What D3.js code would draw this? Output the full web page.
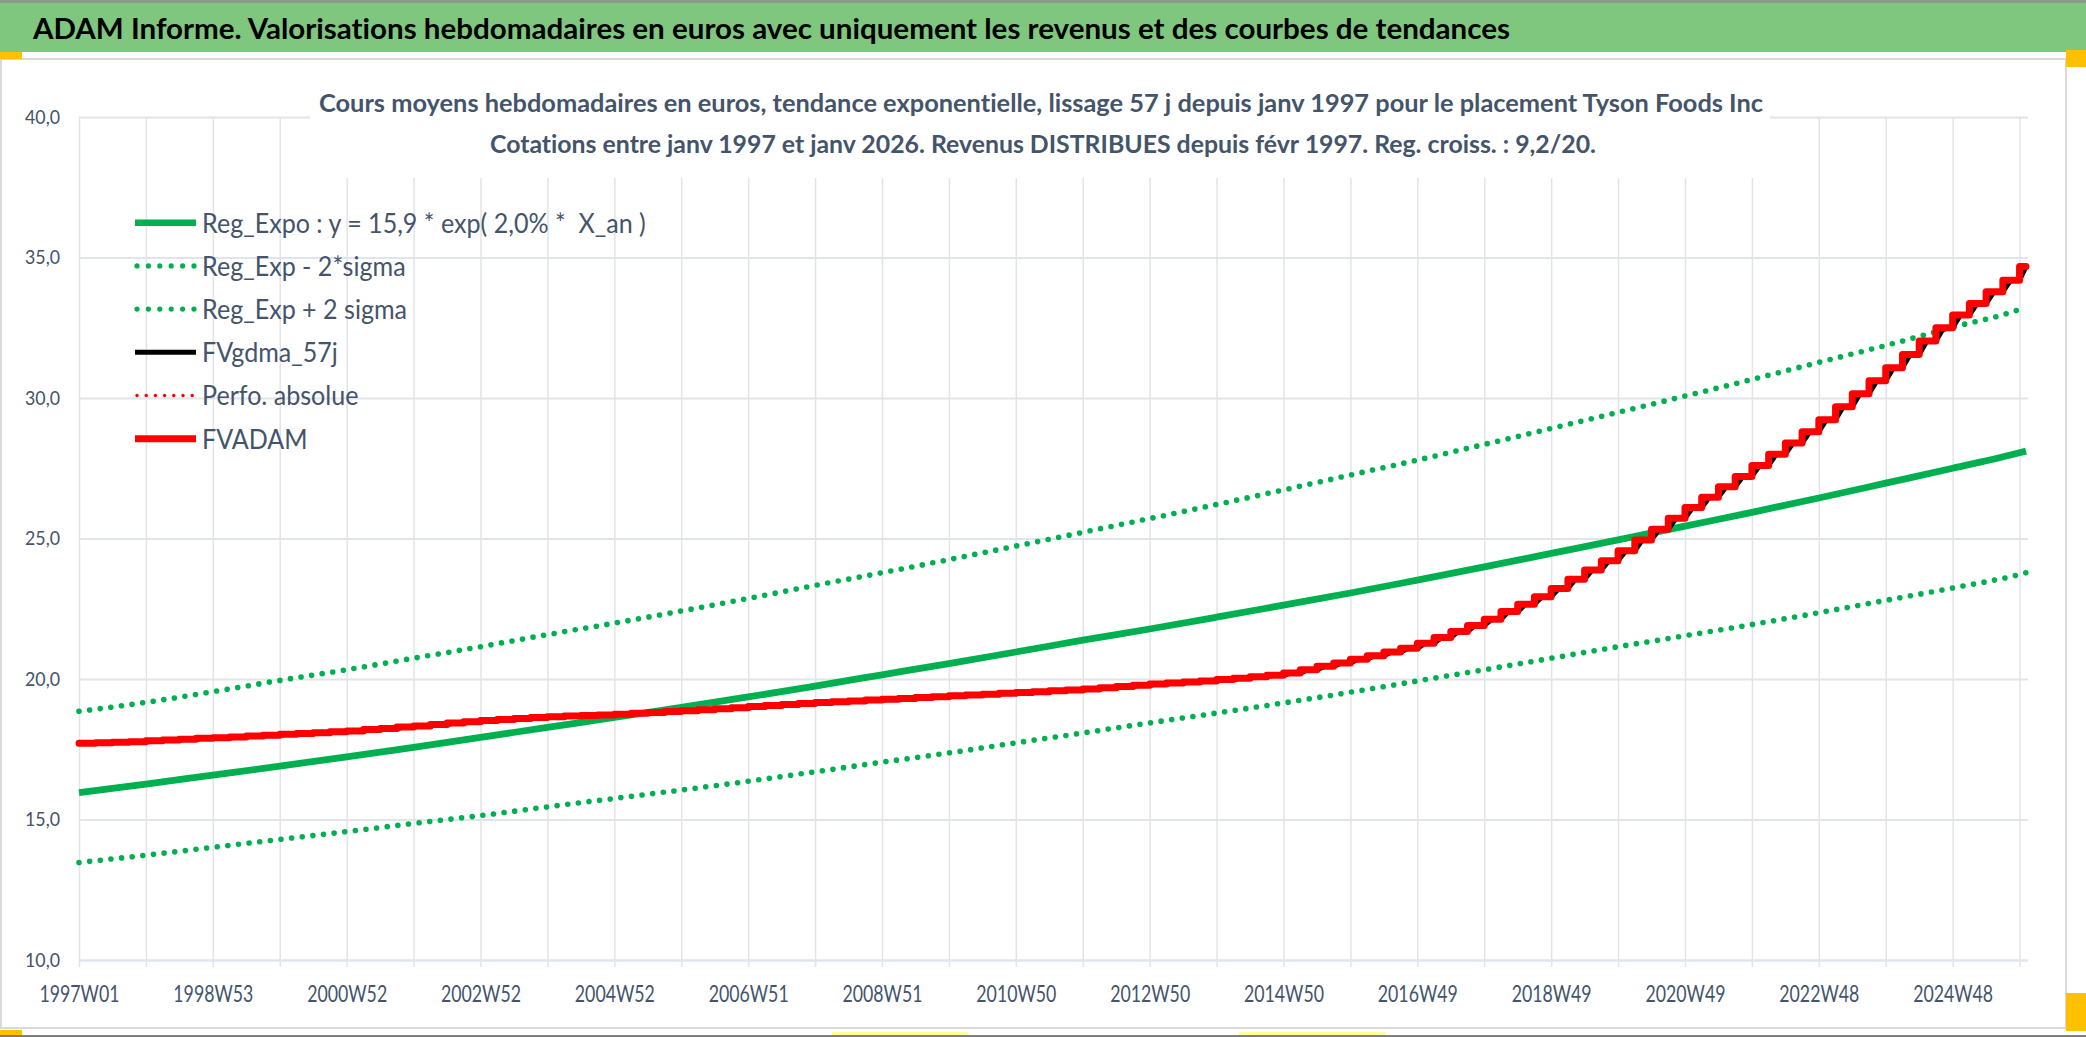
<!DOCTYPE html>
<html>
<head>
<meta charset="utf-8">
<script src="https://cdn.jsdelivr.net/npm/d3@7"></script>
<style>
  body { margin: 0; background: #ffffff; }
  svg { display: block; }
  text { font-family: Lato, "Open Sans", "Noto Sans", sans-serif; font-variant-ligatures: none; }
</style>
</head>
<body>
<div id="vis-container"></div>
<script>
// ---- data ----
const titleText = "ADAM Informe. Valorisations hebdomadaires en euros avec uniquement les revenus et des courbes de tendances";
const subTitle1 = "Cours moyens hebdomadaires en euros, tendance exponentielle, lissage 57 j depuis janv 1997 pour le placement Tyson Foods Inc";
const subTitle2 = "Cotations entre janv 1997 et janv 2026. Revenus DISTRIBUES depuis févr 1997. Reg. croiss. : 9,2/20.";

const seriesNames = ["Reg_Expo : y = 15,9 * exp( 2,0% *  X_an )", "Reg_Exp - 2*sigma", "Reg_Exp + 2 sigma",
                     "FVgdma_57j", "Perfo. absolue", "FVADAM"];

// category axis: one category per week, 1997W01 .. 2026W02
const nWeeks = 1514;
const tickLabels = ["1997W01", "1998W53", "2000W52", "2002W52", "2004W52", "2006W51", "2008W51", "2010W50",
                    "2012W50", "2014W50", "2016W49", "2018W49", "2020W49", "2022W48", "2024W48"];
const yTicks = [10, 15, 20, 25, 30, 35, 40];

// trend curves, read at every yearly gridline (week 0, 52, 104, ...) and at the last week
const regExpo = [15.96, 16.26, 16.58, 16.90, 17.23, 17.57, 17.92, 18.28, 18.63, 18.99, 19.36, 19.75, 20.15, 20.55, 20.96,
                 21.38, 21.78, 22.20, 22.63, 23.06, 23.52, 23.99, 24.47, 24.95, 25.44, 25.93, 26.44, 26.97, 27.50, 28.05, 28.11];
const regMinus = [13.47, 13.73, 14.01, 14.29, 14.57, 14.86, 15.14, 15.45, 15.75, 16.05, 16.36, 16.70, 17.04, 17.37, 17.73,
                  18.08, 18.44, 18.79, 19.15, 19.53, 19.93, 20.33, 20.74, 21.15, 21.54, 21.94, 22.36, 22.80, 23.24, 23.72, 23.78];
const regPlus = [18.85, 19.17, 19.55, 19.95, 20.33, 20.74, 21.15, 21.58, 21.99, 22.42, 22.87, 23.33, 23.78, 24.25, 24.73,
                 25.22, 25.71, 26.21, 26.73, 27.26, 27.79, 28.35, 28.92, 29.49, 30.07, 30.66, 31.27, 31.87, 32.52, 33.16, 33.25];

// FVADAM: one level per quarter (revenue paid every 13 weeks)
const fvadam = [17.71, 17.73, 17.75, 17.77, 17.80, 17.83, 17.86, 17.89, 17.91, 17.94, 17.97, 18.00,
                18.03, 18.06, 18.09, 18.12, 18.15, 18.20, 18.24, 18.29, 18.33, 18.38, 18.43, 18.48,
                18.52, 18.56, 18.59, 18.63, 18.66, 18.68, 18.70, 18.72, 18.75, 18.78, 18.81, 18.84,
                18.87, 18.91, 18.94, 18.98, 19.02, 19.06, 19.09, 19.13, 19.16, 19.19, 19.22, 19.25,
                19.28, 19.31, 19.34, 19.37, 19.40, 19.43, 19.46, 19.49, 19.52, 19.55, 19.58, 19.61,
                19.64, 19.69, 19.73, 19.78, 19.82, 19.86, 19.89, 19.93, 19.98, 20.03, 20.08, 20.13,
                20.21, 20.33, 20.45, 20.57, 20.70, 20.83, 20.96, 21.09, 21.27, 21.48, 21.69, 21.90,
                22.13, 22.40, 22.66, 22.93, 23.22, 23.55, 23.88, 24.21, 24.56, 24.95, 25.33, 25.72,
                26.10, 26.47, 26.84, 27.21, 27.60, 28.00, 28.40, 28.80, 29.23, 29.69, 30.15, 30.61,
                31.08, 31.55, 32.03, 32.50, 32.95, 33.36, 33.78, 34.19, 34.68];

// ---- layout ----
const width = 2086, height = 1037;
const plot = { left: 79, right: 2026, top: 117, bottom: 960, gridRight: 2028 };
const textColor = "#44546A";
const gridColor = "#E1E4EA";
const green = "#00B050", red = "#FF0000";

const svg = d3.select("#vis-container").append("svg").attr("width", width).attr("height", height);

// shrink text horizontally (the source font is a narrow one)
function squeeze(sel, f) {
  sel.each(function () {
    const w = this.getComputedTextLength();
    this.setAttribute("textLength", w * f);
    this.setAttribute("lengthAdjust", "spacingAndGlyphs");
  });
}
function fitTo(sel, target) {
  const w = sel.node().getComputedTextLength();
  sel.attr("textLength", target).attr("lengthAdjust", "spacingAndGlyphs");
  return target / w;
}

// ---- sheet decoration: header band and chart area ----
svg.append("rect").attr("x", 0).attr("y", 0).attr("width", width).attr("height", 3).attr("fill", "#8a9a8a");
svg.append("rect").attr("x", 0).attr("y", 3).attr("width", width).attr("height", 49).attr("fill", "#7FC77E");
svg.append("rect").attr("x", 1).attr("y", 59).attr("width", 2065).attr("height", 969)
   .attr("fill", "#ffffff").attr("stroke", "#D9D9D9").attr("stroke-width", 2);
svg.append("rect").attr("x", 0).attr("y", 1035).attr("width", width).attr("height", 2).attr("fill", "#7f7f7f");
// selection handles of the sheet
svg.append("rect").attr("x", 0).attr("y", 52).attr("width", 22).attr("height", 7).attr("fill", "#FFC000");
svg.append("rect").attr("x", 2066).attr("y", 50).attr("width", 20).attr("height", 17).attr("fill", "#FFC000");
svg.append("rect").attr("x", 2066).attr("y", 993).attr("width", 20).attr("height", 38).attr("fill", "#FFC000");
svg.append("rect").attr("x", 0).attr("y", 1030).attr("width", 22).attr("height", 5).attr("fill", "#FFC000");
svg.append("rect").attr("x", 832).attr("y", 1032).attr("width", 136).attr("height", 3).attr("fill", "#FFFF9A");
svg.append("rect").attr("x", 1239).attr("y", 1032).attr("width", 147).attr("height", 3).attr("fill", "#FFFF9A");

const title = svg.append("text").attr("x", 33).attr("y", 38.5)
   .attr("font-size", 28).attr("font-weight", 700).attr("fill", "#000").text(titleText);
fitTo(title, 1477);

// ---- scales ----
const x = d3.scaleLinear().domain([0, nWeeks - 1]).range([plot.left, plot.right]);
const y = d3.scaleLinear().domain([10, 40]).range([plot.bottom, plot.top]);

const gridWeeks = d3.range(0, nWeeks, 52);
const labelWeeks = tickLabels.map((d, i) => i * 104);
const trendWeeks = gridWeeks.concat([nWeeks - 1]);

// ---- gridlines and axes ----
const yAxisG = svg.append("g").attr("transform", "translate(" + plot.left + ",0)")
   .call(d3.axisLeft(y).tickValues(yTicks).tickSize(-(plot.gridRight - plot.left)).tickPadding(19)
         .tickFormat(d => d.toFixed(1).replace(".", ",")));
yAxisG.select(".domain").remove();
yAxisG.selectAll("line").attr("stroke", gridColor).attr("stroke-width", d => d === 10 ? 2.6 : 2);
yAxisG.selectAll("text").attr("font-size", 19.5).attr("fill", textColor);

const xGridG = svg.append("g").attr("transform", "translate(0," + plot.bottom + ")")
   .call(d3.axisBottom(x).tickValues(gridWeeks).tickSize(7).tickFormat(""));
xGridG.select(".domain").remove();
xGridG.selectAll("line").attr("y1", -(plot.bottom - plot.top)).attr("stroke", gridColor).attr("stroke-width", 1.5);

const xLabG = svg.append("g").attr("transform", "translate(0," + plot.bottom + ")")
   .call(d3.axisBottom(x).tickValues(labelWeeks).tickSize(0).tickPadding(0).tickFormat((d, i) => tickLabels[i]));
xLabG.select(".domain").remove();
xLabG.selectAll("text").attr("dy", null).attr("y", 41.5).attr("font-size", 23).attr("fill", textColor);

// chart title on a white box that hides the gridlines behind it
svg.append("rect").attr("x", 310).attr("y", 78).attr("width", 1460).attr("height", 100).attr("fill", "#ffffff");
const st1 = svg.append("text").attr("x", 319).attr("y", 112).attr("font-size", 25).attr("font-weight", 700)
   .attr("fill", textColor).text(subTitle1);
fitTo(st1, 1444);
const st2 = svg.append("text").attr("x", 490).attr("y", 153).attr("font-size", 25).attr("font-weight", 700)
   .attr("fill", textColor).text(subTitle2);
fitTo(st2, 1106);

// ---- series ----
const smooth = d3.line().x(d => x(d[0])).y(d => y(d[1])).curve(d3.curveMonotoneX);
const vis = svg.append("g");

vis.append("path").attr("d", smooth(d3.zip(trendWeeks, regMinus)))
   .attr("fill", "none").attr("stroke", green).attr("stroke-width", 5.6)
   .attr("stroke-linecap", "round").attr("stroke-dasharray", "0 10.7");
vis.append("path").attr("d", smooth(d3.zip(trendWeeks, regPlus)))
   .attr("fill", "none").attr("stroke", green).attr("stroke-width", 5.6)
   .attr("stroke-linecap", "round").attr("stroke-dasharray", "0 10.7");
vis.append("path").attr("d", smooth(d3.zip(trendWeeks, regExpo)))
   .attr("fill", "none").attr("stroke", green).attr("stroke-width", 6.8).attr("stroke-linejoin", "round");

// quarterly steps: level i holds from week 13*i
const stepPts = fvadam.map((v, i) => [i * 13, v]).concat([[nWeeks - 1, fvadam[fvadam.length - 1]]]);
// FVgdma_57j: smoothed version of the same levels, ramping over the weeks that follow each payment
const lag = 6;
const gdmaPts = [[0, fvadam[0]]];
fvadam.forEach((v, i) => { if (i > 0) { gdmaPts.push([i * 13, fvadam[i - 1]]); gdmaPts.push([Math.min(i * 13 + lag, nWeeks - 1), v]); } });
gdmaPts.push([nWeeks - 1, fvadam[fvadam.length - 1]]);

const linear = d3.line().x(d => x(d[0])).y(d => y(d[1]));
vis.append("path").attr("d", linear(gdmaPts))
   .attr("fill", "none").attr("stroke", "#000").attr("stroke-width", 5).attr("stroke-linejoin", "round");
vis.append("path").attr("d", d3.line().x(d => x(d[0])).y(d => y(d[1])).curve(d3.curveStepAfter)(stepPts))
   .attr("fill", "none").attr("stroke", red).attr("stroke-width", 7)
   .attr("stroke-linejoin", "round").attr("stroke-linecap", "round");

// ---- legend ----
const legendStyles = [
  { color: green, w: 6.5, dash: null },
  { color: green, w: 5.2, dash: "0 11.4" },
  { color: green, w: 5.2, dash: "0 11.4" },
  { color: "#000", w: 5, dash: null },
  { color: red, w: 3.5, dash: "0 9.2" },
  { color: red, w: 7, dash: null }
];
const legend = svg.append("g");
const items = legend.selectAll("g").data(seriesNames).enter().append("g")
   .attr("transform", (d, i) => "translate(0," + (222.7 + i * 43.2) + ")");
items.append("line").attr("x1", (d, i) => legendStyles[i].dash ? 137 : 135).attr("x2", 196)
   .attr("stroke", (d, i) => legendStyles[i].color).attr("stroke-width", (d, i) => legendStyles[i].w)
   .attr("stroke-dasharray", (d, i) => legendStyles[i].dash)
   .attr("stroke-linecap", (d, i) => legendStyles[i].dash ? "round" : "butt");
const legTexts = items.append("text").attr("x", 202).attr("y", 9.8).attr("font-size", 27)
   .attr("fill", textColor).style("white-space", "pre").text(d => d);

// narrow the fonts to the measured widths
const legF = 203.6 / legTexts.filter((d, i) => i === 1).node().getComputedTextLength();
squeeze(legTexts, legF);
const xTexts = xLabG.selectAll("text");
const tickF = 80 / xTexts.node().getComputedTextLength();
squeeze(xTexts, tickF);
const yTexts = yAxisG.selectAll("text");
const yF = 35 / yTexts.filter(d => d === 35).node().getComputedTextLength();
squeeze(yTexts, yF);
</script>
</body>
</html>
